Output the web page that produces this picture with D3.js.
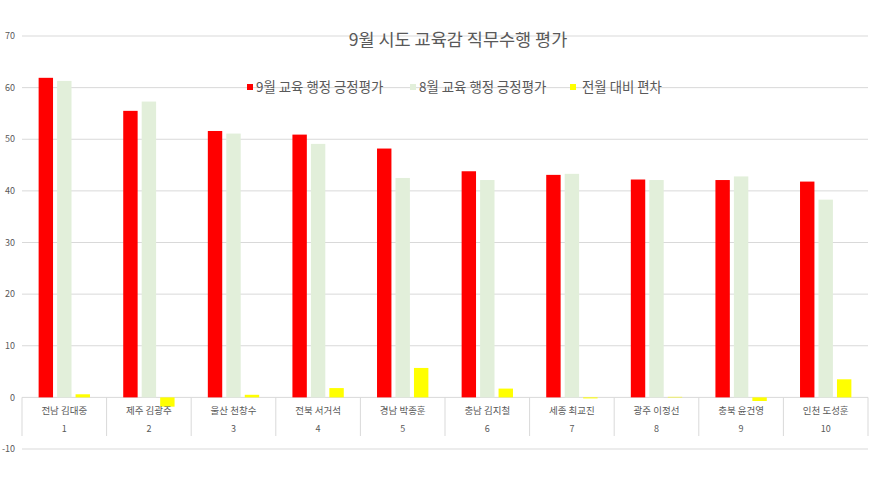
<!DOCTYPE html>
<html>
<head>
<meta charset="utf-8">
<script src="https://cdn.jsdelivr.net/npm/d3@7"></script>
<style>
  body { margin: 0; background: #fff; }
  svg { font-family: "Noto Sans CJK KR", "Noto Sans", sans-serif; }
</style>
</head>
<body>
<div id="chart"></div>
<script>
// chart data
const names = ['전남 김대중', '제주 김광주', '울산 천창수', '전북 서거석', '경남 박종훈',
  '충남 김지철', '세종 최교진', '광주 이정선', '충북 윤건영', '인천 도성훈'];
const ranks = ['1', '2', '3', '4', '5', '6', '7', '8', '9', '10'];
const septValues = [61.9, 55.5, 51.6, 50.9, 48.2, 43.8, 43.1, 42.2, 42.1, 41.8];
const augValues = [61.3, 57.3, 51.1, 49.1, 42.5, 42.1, 43.3, 42.1, 42.8, 38.3];
const diffValues = [0.6, -1.8, 0.5, 1.8, 5.7, 1.7, -0.2, 0.1, -0.7, 3.5];
const seriesNames = ['9월 교육 행정 긍정평가', '8월 교육 행정 긍정평가', '전월 대비 편차'];
const yTicks = [-10, 0, 10, 20, 30, 40, 50, 60, 70];
const title = '9월 시도 교육감 직무수행 평가';

const colors = ['#ff0000', '#e2efda', '#ffff00'];
const textColor = '#595959';
const gridColor = '#d9d9d9';

const W = 875, H = 487;
const svg = d3.select('#chart').append('svg')
  .attr('width', W)
  .attr('height', H);

const left = 22, right = 868;

const y = d3.scaleLinear()
  .domain([-10, 70])
  .range([449, 36]);

const x0 = d3.scaleBand()
  .domain(ranks)
  .range([left, right])
  .padding(0);

const x1 = d3.scaleBand()
  .domain(seriesNames)
  .range([0, x0.bandwidth()])
  .paddingInner(0.22)
  .paddingOuter(0.9);

// gridlines + y labels
svg.append('g')
  .selectAll('line')
  .data(yTicks)
  .enter().append('line')
  .attr('x1', left)
  .attr('x2', right)
  .attr('y1', d => y(d))
  .attr('y2', d => y(d))
  .attr('stroke', gridColor)
  .attr('stroke-width', 1);

svg.append('g')
  .selectAll('text')
  .data(yTicks)
  .enter().append('text')
  .attr('x', 15)
  .attr('y', d => y(d))
  .attr('dy', '0.35em')
  .attr('text-anchor', 'end')
  .attr('font-size', 9)
  .attr('fill', textColor)
  .text(d => d);

// bars
const rows = ranks.map((r, i) => ({
  rank: r,
  vals: [septValues[i], augValues[i], diffValues[i]]
}));

const groups = svg.append('g')
  .selectAll('g')
  .data(rows)
  .enter().append('g')
  .attr('transform', d => `translate(${x0(d.rank)},0)`);

groups.selectAll('rect')
  .data(d => d.vals.map((v, j) => ({ key: seriesNames[j], v: v, j: j })))
  .enter().append('rect')
  .attr('x', d => x1(d.key))
  .attr('width', x1.bandwidth())
  .attr('y', d => y(Math.max(0, d.v)))
  .attr('height', d => Math.abs(y(d.v) - y(0)))
  .attr('fill', d => colors[d.j]);

// category axis (two levels)
const axisG = svg.append('g');
const edges = ranks.map(r => x0(r)).concat([right]);
axisG.selectAll('line.div')
  .data(edges)
  .enter().append('line')
  .attr('class', 'div')
  .attr('x1', d => d)
  .attr('x2', d => d)
  .attr('y1', y(0))
  .attr('y2', 436)
  .attr('stroke', gridColor);

axisG.selectAll('text.name')
  .data(names)
  .enter().append('text')
  .attr('class', 'name')
  .attr('x', (d, i) => x0(ranks[i]) + x0.bandwidth() / 2)
  .attr('y', 411)
  .attr('dy', '0.35em')
  .attr('text-anchor', 'middle')
  .attr('font-size', 9.5)
  .attr('fill', textColor)
  .text(d => d);

axisG.selectAll('text.rank')
  .data(ranks)
  .enter().append('text')
  .attr('class', 'rank')
  .attr('x', d => x0(d) + x0.bandwidth() / 2)
  .attr('y', 429)
  .attr('dy', '0.35em')
  .attr('text-anchor', 'middle')
  .attr('font-size', 9)
  .attr('fill', textColor)
  .text(d => d);

// title
svg.append('text')
  .attr('x', 458)
  .attr('y', 40)
  .attr('dy', '0.35em')
  .attr('text-anchor', 'middle')
  .attr('font-size', 17.5)
  .attr('fill', textColor)
  .text(title);

// legend
const legendX = [247, 410, 570];
const legend = svg.append('g')
  .selectAll('g')
  .data(seriesNames)
  .enter().append('g')
  .attr('transform', (d, i) => `translate(${legendX[i]},87)`);

legend.append('rect')
  .attr('x', 0)
  .attr('y', -3)
  .attr('width', 6)
  .attr('height', 6)
  .attr('fill', (d, i) => colors[i]);

legend.append('text')
  .attr('x', (d, i) => i === 2 ? 12 : 9)
  .attr('y', 0)
  .attr('dy', '0.35em')
  .attr('font-size', 13.4)
  .attr('fill', textColor)
  .text(d => d);
</script>
</body>
</html>
